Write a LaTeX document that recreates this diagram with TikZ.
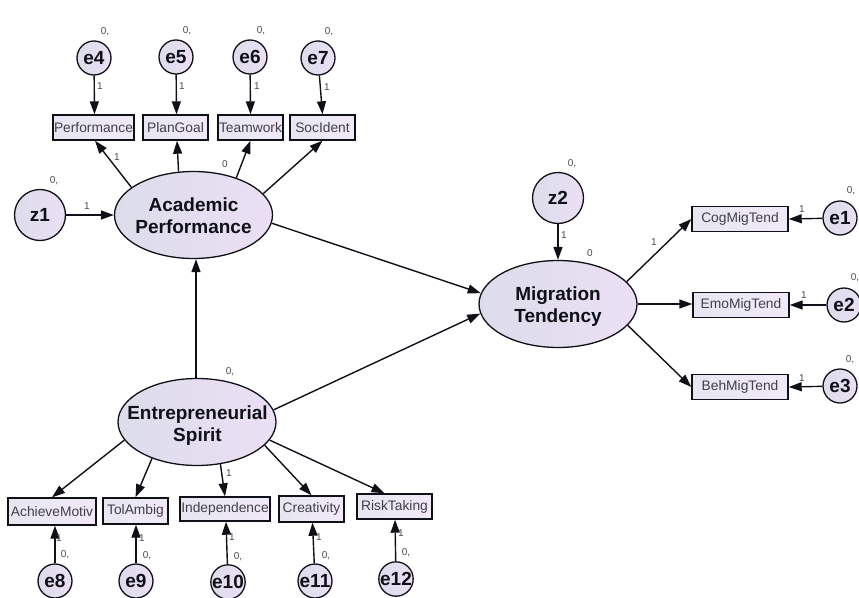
\documentclass[tikz,border=0pt]{standalone}
\usepackage{fontspec}
\setmainfont{Liberation Sans}
\usetikzlibrary{shapes.geometric,arrows.meta}
\definecolor{inkc}{HTML}{101018}
\definecolor{fillL}{HTML}{DCDDEA}
\definecolor{fillR}{HTML}{EBDFF5}
\definecolor{labc}{HTML}{4A4A4A}
\tikzset{
  x=1pt,y=-1pt,
  latent/.style={ellipse,draw=inkc,line width=1.3pt,left color=fillL,right color=fillR,inner sep=0pt,minimum width=158pt,minimum height=87pt},
  elltext/.style={inner sep=0pt,align=center,text=inkc,font=\fontsize{19}{22}\selectfont\bfseries},
  errc/.style={circle,draw=inkc,line width=1.3pt,left color=fillL,right color=fillR,inner sep=0pt,minimum size=34pt,text=inkc,font=\fontsize{19}{22}\selectfont\bfseries},
  distc/.style={errc,minimum size=51pt},
  obs/.style={rectangle,draw=inkc,line width=1.4pt,left color=fillL!70!white,right color=fillR!70!white,inner sep=0pt,minimum height=25pt,text=inkc!80!white,font=\fontsize{13.8}{15}\selectfont},
  lab/.style={inner sep=0pt,text=labc,font=\fontsize{10}{11}\selectfont},
  conn/.style={draw=inkc,line width=1.4pt,-{Triangle[length=13pt,width=9pt]}},
}
\begin{document}
\begin{tikzpicture}
\useasboundingbox (0,0) rectangle (859,597);
% latent variables
\node[latent] (ap) at (193.5,215) {};
\node[elltext] (apt) at (193.5,216) {Academic\\Performance};
\node[latent] (es) at (197,422) {};
\node[elltext] (est) at (197.5,425.5) {Entrepreneurial\\Spirit};
\node[latent] (mt) at (558,304) {};
\node[elltext] (mtt) at (558,306.5) {Migration\\Tendency};
% disturbances
\node[distc] (z1) at (40,215) {z1};
\node[distc] (z2) at (558,198) {z2};
% errors
\node[errc] (e4) at (94,58) {e4};
\node[errc] (e5) at (176,57) {e5};
\node[errc] (e6) at (250,57) {e6};
\node[errc] (e7) at (318,58) {e7};
\node[errc] (e1) at (840,218) {e1};
\node[errc] (e2) at (844,305) {e2};
\node[errc] (e3) at (840,386) {e3};
\node[errc] (e8) at (55,581) {e8};
\node[errc] (e9) at (136,581) {e9};
\node[errc] (e10) at (228,582) {e10};
\node[errc] (e11) at (315,581) {e11};
\node[errc] (e12) at (396,579) {e12};
% indicators
\node[obs,minimum width=81pt] (pf) at (93.5,127.5) {Performance};
\node[obs,minimum width=65pt] (pg) at (175.5,127.5) {PlanGoal};
\node[obs,minimum width=65pt] (tw) at (250.5,127.5) {Teamwork};
\node[obs,minimum width=65pt] (si) at (322.5,127.5) {SocIdent};
\node[obs,minimum width=96pt] (cm) at (740,219) {CogMigTend};
\node[obs,minimum width=96pt] (em) at (741,305) {EmoMigTend};
\node[obs,minimum width=96pt] (bm) at (740,387) {BehMigTend};
\node[obs,minimum width=88pt,minimum height=27pt] (am) at (52,511.5) {AchieveMotiv};
\node[obs,minimum width=65pt,minimum height=26pt] (ta) at (135.5,511) {TolAmbig};
\node[obs,minimum width=90pt,minimum height=24pt] (in) at (225,509) {Independence};
\node[obs,minimum width=65pt,minimum height=26pt] (cr) at (311.5,509) {Creativity};
\node[obs,minimum width=75pt,minimum height=25pt] (rt) at (394.5,506.5) {RiskTaking};
% connectors
\draw[conn] (e4) -- ([xshift=1pt]pf.north);
\draw[conn] (e5) -- ([xshift=1pt]pg.north);
\draw[conn] (e6) -- (tw.north);
\draw[conn] (e7) -- (si.north);
\draw[conn] (ap.156.5) -- ([xshift=1.5pt]pf.south);
\draw[conn] (ap.109) -- ([xshift=1.5pt]pg.south);
\draw[conn] (ap.41) -- (tw.south);
\draw[conn] (ap.17) -- (si.south);
\draw[conn] (z1) -- (ap);
\draw[conn] (ap.-6.5) -- (mt.172.7);
\draw[conn] ([xshift=-1pt]es.north) -- ([xshift=2.5pt]ap.south);
\draw[conn] (es.9) -- (mt.187.4);
\draw[conn] (es.194.4) -- (am.north);
\draw[conn] (es.219) -- (ta.north);
\draw[conn] (es.-61) -- (in.north);
\draw[conn] (es.-19.6) -- (cr.north);
\draw[conn] (es.-14) -- ([xshift=-10pt]rt.north);
\draw[conn] (z2) -- (mt);
\draw[conn] (mt.18) -- (cm.west);
\draw[conn] (mt.0) -- ([yshift=1pt]em.west);
\draw[conn] (mt.-17.5) -- (bm.west);
\draw[conn] (e1) -- (cm.east);
\draw[conn] (e2) -- (em.east);
\draw[conn] (e3) -- (bm.east);
\draw[conn] (e8) -- ([xshift=3pt]am.south);
\draw[conn] (e9) -- ([xshift=.5pt]ta.south);
\draw[conn] (e10) -- ([xshift=1pt]in.south);
\draw[conn] (e11) -- ([xshift=1pt]cr.south);
\draw[conn] (e12) -- ([xshift=.5pt]rt.south);
% small labels
\node[lab] (n1) at (105,32) {0,};
\node[lab] (n2) at (187,31) {0,};
\node[lab] (n3) at (261,31) {0,};
\node[lab] (n4) at (329,32) {0,};
\node[lab] (n5) at (54,181) {0,};
\node[lab] (n6) at (230,372) {0,};
\node[lab] (n7) at (572,164) {0,};
\node[lab] (n8) at (851,191) {0,};
\node[lab] (n9) at (855,278) {0,};
\node[lab] (n10) at (850,360) {0,};
\node[lab] (n11) at (65,555) {0,};
\node[lab] (n12) at (147,556) {0,};
\node[lab] (n13) at (238,557) {0,};
\node[lab] (n14) at (326,556) {0,};
\node[lab] (n15) at (406,553) {0,};
\node[lab] (n16) at (225,164) {0};
\node[lab] (n17) at (590,253) {0};
\node[lab] (o1) at (100,86) {1};
\node[lab] (o2) at (182,86) {1};
\node[lab] (o3) at (257,86) {1};
\node[lab] (o4) at (327,87) {1};
\node[lab] (o5) at (117,157) {1};
\node[lab] (o6) at (87,206) {1};
\node[lab] (o7) at (229,473) {1};
\node[lab] (o8) at (59,538) {1};
\node[lab] (o9) at (142,538) {1};
\node[lab] (o10) at (232,537) {1};
\node[lab] (o11) at (319,537) {1};
\node[lab] (o12) at (401,533) {1};
\node[lab] (o13) at (564,235) {1};
\node[lab] (o14) at (654,242) {1};
\node[lab] (o15) at (802,209) {1};
\node[lab] (o16) at (804,295) {1};
\node[lab] (o17) at (802,378) {1};
\end{tikzpicture}
\end{document}
